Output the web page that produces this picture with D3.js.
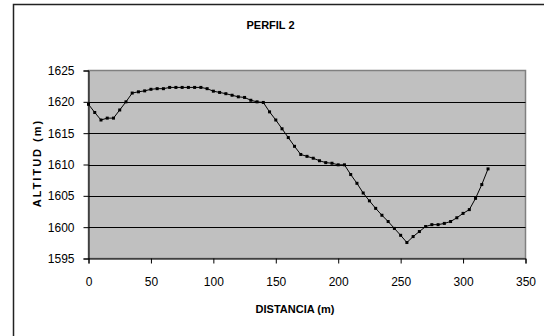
<!DOCTYPE html>
<html><head><meta charset="utf-8">
<script src="https://cdn.jsdelivr.net/npm/d3@7"></script>
<style>
body{margin:0;background:#fff;}
svg{display:block;font-family:"Liberation Sans",Arial,sans-serif;}
</style></head>
<body><svg id="c" width="544" height="336"></svg>
<script>
const distances = [0,5,10,15,20,25,30,35,40,45,50,55,60,65,70,75,80,85,90,95,100,105,110,115,120,125,130,135,140,145,150,155,160,165,170,175,180,185,190,195,200,205,210,215,220,225,230,235,240,245,250,255,260,265,270,275,280,285,290,295,300,305,310,315,320];
const altitudes = [1619.6,1618.3,1617.1,1617.4,1617.4,1618.7,1620.0,1621.4,1621.6,1621.75,1622.0,1622.1,1622.1,1622.3,1622.3,1622.3,1622.3,1622.3,1622.3,1622.1,1621.7,1621.5,1621.3,1621.05,1620.8,1620.7,1620.25,1620.0,1619.9,1618.4,1617.1,1615.7,1614.3,1612.9,1611.6,1611.3,1611.0,1610.6,1610.3,1610.2,1609.95,1609.95,1608.4,1607.0,1605.45,1604.2,1603.0,1601.9,1600.9,1599.8,1598.7,1597.55,1598.5,1599.3,1600.1,1600.4,1600.4,1600.6,1600.9,1601.5,1602.2,1602.8,1604.6,1606.8,1609.3];
const xTicks = [0,50,100,150,200,250,300,350];
const yTicks = [1595,1600,1605,1610,1615,1620,1625];
const title = "PERFIL 2";
const xTitle = "DISTANCIA (m)";
const yTitle = "ALTITUD (m)";

const svg = d3.select("#c");
// outer chart border
svg.append("rect").attr("x",13.5).attr("y",4.5).attr("width",540).attr("height",340)
  .attr("fill","#fff").attr("stroke","#222").attr("stroke-width",1.5);

const L=88.5, R=525.5, T=70.5, B=258.5;
const x = d3.scaleLinear().domain([0,350]).range([L,R]);
const y = d3.scaleLinear().domain([1595,1625]).range([B,T]);

svg.append("rect").attr("x",L).attr("y",T).attr("width",R-L).attr("height",B-T)
  .attr("fill","#c0c0c0").attr("stroke","#808080").attr("stroke-width",1.5);

// gridlines
svg.append("g").selectAll("line").data(yTicks.filter(d=>d>1595&&d<1625)).join("line")
  .attr("x1",L).attr("x2",R).attr("y1",d=>Math.round(y(d))+0.5).attr("y2",d=>Math.round(y(d))+0.5)
  .attr("stroke","#000").attr("stroke-width",1);

// axes
const yAxis = d3.axisLeft(y).tickValues(yTicks).tickSize(5).tickPadding(9).tickFormat(d3.format("d"));
const gy = svg.append("g").attr("transform",`translate(${L},0)`).call(yAxis);
const xAxis = d3.axisBottom(x).tickValues(xTicks).tickSize(5).tickPadding(14).tickFormat(d3.format("d"));
const gx = svg.append("g").attr("transform",`translate(0,${B})`).call(xAxis);
[gx,gy].forEach(g=>{
  g.selectAll("path.domain").attr("stroke","#000");
  g.selectAll("line").attr("stroke","#000");
  g.selectAll("text").attr("font-size",12).attr("fill","#000").attr("font-family","Liberation Sans, Arial, sans-serif");
});

// line
const pts = distances.map((d,i)=>[d,altitudes[i]]);
svg.append("path").datum(pts)
  .attr("d",d3.line().x(d=>x(d[0])).y(d=>y(d[1])))
  .attr("fill","none").attr("stroke","#000").attr("stroke-width",1);
svg.append("g").selectAll("rect").data(pts).join("rect")
  .attr("x",d=>x(d[0])-1.5).attr("y",d=>y(d[1])-1.5).attr("width",3).attr("height",3)
  .attr("fill","#000");

// titles
svg.append("text").attr("x",270.5).attr("y",29).attr("text-anchor","middle")
  .attr("font-size",11).attr("font-weight","bold").text(title);
svg.append("text").attr("x",295).attr("y",313).attr("text-anchor","middle")
  .attr("font-size",11).attr("font-weight","bold").text(xTitle);
svg.append("text").attr("transform","translate(41,163) rotate(-90)").attr("text-anchor","middle")
  .attr("font-size",11).attr("font-weight","bold").attr("letter-spacing","2").text(yTitle);
</script></body></html>
